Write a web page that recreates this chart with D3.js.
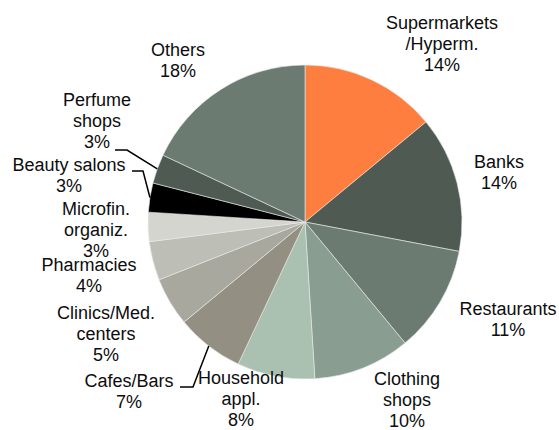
<!DOCTYPE html>
<html>
<head>
<meta charset="utf-8">
<script src="https://cdn.jsdelivr.net/npm/d3@7/dist/d3.min.js"></script>
<style>
  html, body { margin: 0; padding: 0; background: #fff; }
  svg { display: block; }
  text { font-family: "Liberation Sans", Arial, sans-serif; font-size: 18px; fill: #0d0d0d; }
</style>
</head>
<body>
<svg id="chart" width="559" height="430"></svg>
<script>
// Share of outlets by category (%), clockwise from 12 o'clock
const categories = [
  "Supermarkets\n/Hyperm.", "Banks", "Restaurants", "Clothing\nshops", "Household\nappl.",
  "Cafes/Bars", "Clinics/Med.\ncenters", "Pharmacies", "Microfin.\norganiz.",
  "Beauty salons", "Perfume\nshops", "Others"
];
const shares = [14, 14, 11, 10, 8, 7, 5, 4, 3, 3, 3, 18];

const colors = [
  "#fd7e3f", "#4f5a53", "#6b7b72", "#8a9d91", "#aac0b0", "#939083",
  "#a8a89e", "#bdbeb6", "#d4d5cf", "#000000", "#4f5a53", "#6b7b72"
];

// Label layout: block centre x and first baseline, relative to the pie centre
const labelPos = [
  [137, -193], [194, -54], [203, 93], [102, 163], [-64, 162], [-176, 165],
  [-199, 97], [-216, 49], [-209, -7], [-236, -51], [-208, -116], [-127, -166]
];
// Leader lines for the crowded small slices: [index, stub start x, stub end x, y] (relative)
const leaders = [
  [10, -190, -178, -72],
  [9, -173, -162, -51],
  [5, -125, -112, 165]
];

const cx = 305, cy = 222, radius = 157, lineH = 21.2;

const svg = d3.select("#chart");
const g = svg.append("g").attr("transform", `translate(${cx},${cy})`);

const pie = d3.pie().sort(null).value(d => d)(shares);
const arc = d3.arc().innerRadius(0).outerRadius(radius);

g.selectAll("path.slice")
  .data(pie)
  .join("path")
  .attr("class", "slice")
  .attr("d", arc)
  .attr("fill", (d, i) => colors[i])
  .attr("stroke", "#e8ebe8")
  .attr("stroke-width", 0.6);

// Leader lines
const edge = d3.arc().innerRadius(radius).outerRadius(radius);
leaders.forEach(([i, x0, x1, y]) => {
  const p = edge.centroid(pie[i]);
  g.append("path")
    .attr("d", d3.line()([[x0, y], [x1, y], p]))
    .attr("fill", "none")
    .attr("stroke", "#000")
    .attr("stroke-width", 1.5);
});

// Labels: category lines followed by the percentage
pie.forEach((d, i) => {
  const lines = categories[i].split("\n").concat([shares[i] + "%"]);
  const [lx, ly] = labelPos[i];
  const t = g.append("text").attr("text-anchor", "middle");
  lines.forEach((s, k) => {
    t.append("tspan").attr("x", lx).attr("y", ly + k * lineH).text(s);
  });
});
</script>
</body>
</html>
